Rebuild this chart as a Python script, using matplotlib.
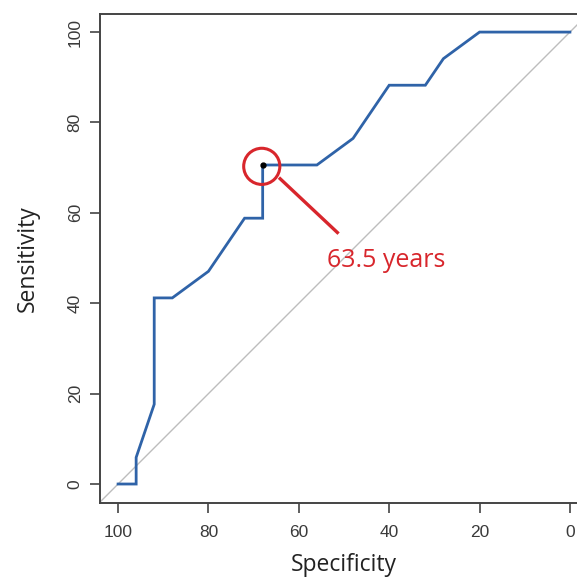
import numpy as np
import matplotlib
matplotlib.use("Agg")
import matplotlib.pyplot as plt
from matplotlib.patches import Ellipse

# ROC curve (percent)
specificity = [100, 96, 96, 92, 92, 88, 80, 72, 68, 68, 56, 48, 40, 32, 28, 20, 0]
sensitivity = [0, 0, 5.88, 17.65, 41.18, 41.18, 47.06, 58.82, 58.82, 70.59,
               70.59, 76.47, 88.24, 88.24, 94.12, 100, 100]
cut_spec = 68
cut_sens = 70.59
cut_label = "63.5 years"
ticks = [0, 20, 40, 60, 80, 100]

label_font = ["Open Sans", "DejaVu Sans"]
tick_font = ["Liberation Sans", "DejaVu Sans"]
red = "#d8262c"
axis_col = "#444444"

fig = plt.figure(figsize=(5.77, 5.77), dpi=100)
ax = fig.add_axes([100 / 577, 74 / 577, 488 / 577, 489 / 577])

# chance line across the whole plot region
ax.plot([110, -10], [-10, 110], color="#bdbdbd", lw=1.0, zorder=1)
ax.plot(specificity, sensitivity, color="#2f63a8", lw=2.0, zorder=2,
        solid_joinstyle="miter")
ax.plot([cut_spec], [cut_sens], "o", color="black", ms=3.5, zorder=3)

# highlight of the cut-off point
ax.add_patch(Ellipse((cut_spec + 0.2, cut_sens - 0.3), 8.0, 8.0, fill=False,
                     ec=red, lw=2.2, zorder=4))
ax.plot([64.4, 51.2], [67.8, 55.4], color=red, lw=2.4, zorder=4,
        solid_capstyle="butt")
ax.text(53.8, 48.0, cut_label, color=red, fontsize=18, family=label_font,
        ha="left", va="baseline")

ax.set_xlim(104, -4)
ax.set_ylim(-4.2, 104)
ax.set_xticks(ticks)
ax.set_yticks(ticks)
ax.set_xticklabels([str(t) for t in ticks], family=tick_font, fontsize=12.5,
                   color="#3a3a3a")
ax.set_yticklabels([str(t) for t in ticks], family=tick_font, fontsize=12.5,
                   color="#3a3a3a", rotation=90, va="center")
ax.tick_params(length=7, width=1.2, color=axis_col)
ax.tick_params(axis="x", pad=9)
ax.tick_params(axis="y", pad=5.5)
for s in ax.spines.values():
    s.set_color(axis_col)
    s.set_linewidth(1.4)

ax.set_xlabel("Specificity", family=label_font, fontsize=16.5, color="#222222",
              labelpad=9)
ax.set_ylabel("Sensitivity", family=label_font, fontsize=16.5, color="#222222",
              labelpad=20)

fig.savefig("out.png", dpi=100)
